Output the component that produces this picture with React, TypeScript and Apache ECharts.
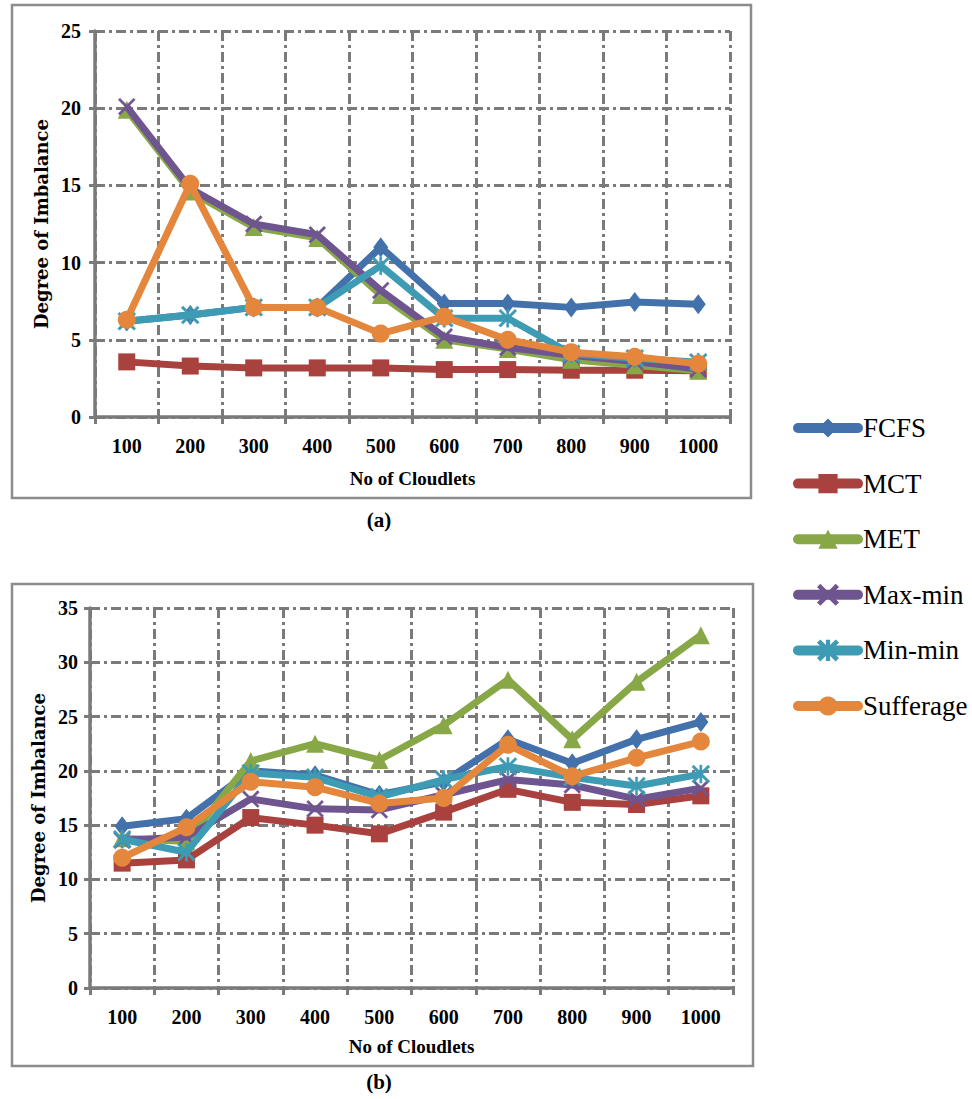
import React, { useEffect, useRef } from "react";
import * as echarts from "echarts";

const categories = ["100", "200", "300", "400", "500", "600", "700", "800", "900", "1000"];
const seriesNames = ["FCFS", "MCT", "MET", "Max-min", "Min-min", "Sufferage"];

// Chart (a)
const fcfsA = [6.2, 6.6, 7.1, 7.1, 11.0, 7.35, 7.35, 7.1, 7.45, 7.3];
const mctA = [3.57, 3.3, 3.18, 3.18, 3.18, 3.07, 3.07, 3.03, 3.03, 3.0];
const metA = [19.9, 14.6, 12.3, 11.6, 7.9, 5.0, 4.4, 3.7, 3.35, 3.0];
const maxminA = [20.1, 14.8, 12.5, 11.8, 8.2, 5.2, 4.5, 4.0, 3.6, 3.1];
const minminA = [6.2, 6.6, 7.1, 7.1, 9.8, 6.4, 6.4, 4.1, 3.8, 3.55];
const suffA = [6.3, 15.1, 7.1, 7.1, 5.4, 6.5, 5.0, 4.2, 3.9, 3.45];

// Chart (b)
const fcfsB = [14.9, 15.6, 20.0, 19.6, 17.8, 19.0, 22.9, 20.7, 22.9, 24.5];
const mctB = [11.5, 11.8, 15.7, 15.0, 14.2, 16.2, 18.3, 17.1, 16.9, 17.7];
const metB = [13.8, 13.5, 20.9, 22.5, 21.0, 24.2, 28.4, 22.9, 28.2, 32.5];
const maxminB = [13.6, 13.9, 17.4, 16.5, 16.4, 17.8, 19.2, 18.7, 17.4, 18.4];
const minminB = [13.7, 12.5, 19.8, 19.4, 17.6, 19.2, 20.4, 19.4, 18.6, 19.7];
const suffB = [12.0, 14.8, 19.0, 18.5, 17.0, 17.5, 22.4, 19.5, 21.2, 22.7];

const yTicksA = { min: 0, max: 25, interval: 5 };
const yTicksB = { min: 0, max: 35, interval: 5 };

const colors = ["#4371AC", "#A9423E", "#88A848", "#6F5590", "#3E9BB4", "#E4863C"];
const xSym = "path://M0,1 L1,0 L5,4 L9,0 L10,1 L6,5 L10,9 L9,10 L5,6 L1,10 L0,9 L4,5 Z";
const starSym =
  "path://M4.4,0 L5.6,0 L5.6,10 L4.4,10 Z M0,1 L1,0 L10,9 L9,10 Z M9,0 L10,1 L1,10 L0,9 Z";
const symbols: any[] = ["diamond", "rect", "triangle", xSym, starSym, "circle"];
const symbolSizes: any[] = [[15, 20], 17, 18, 17, 18, 18];

const gridColor = "#7a7a7a";
const serif = "'Liberation Serif', 'Times New Roman', serif";

export default function App() {
  const ref = useRef<HTMLDivElement>(null);
  useEffect(() => {
    if (!ref.current) return;
    const chart = echarts.init(ref.current, undefined, { renderer: "svg" });
    const dataA = [fcfsA, mctA, metA, maxminA, minminA, suffA];
    const dataB = [fcfsB, mctB, metB, maxminB, minminB, suffB];

    const mkX = (gridIndex: number, nameGap: number) => ({
      type: "category",
      gridIndex,
      data: categories,
      boundaryGap: true,
      name: "No of Cloudlets",
      nameLocation: "middle",
      nameGap,
      nameTextStyle: { fontFamily: serif, fontWeight: "bold", fontSize: 19, color: "#000" },
      axisLine: { show: true, lineStyle: { color: gridColor, width: 3.5 } },
      axisTick: { show: true, inside: false, length: 7, alignWithLabel: false, lineStyle: { color: gridColor, width: 3 } },
      axisLabel: { fontFamily: serif, fontWeight: "bold", fontSize: 20, color: "#000", margin: 19 },
      splitLine: { show: true, lineStyle: { color: gridColor, width: 3, type: [10, 4, 3, 4] } },
    });
    const mkY = (gridIndex: number, t: any, nameGap: number, margin: number) => ({
      type: "value",
      gridIndex,
      min: t.min,
      max: t.max,
      interval: t.interval,
      name: "Degree of Imbalance",
      nameLocation: "middle",
      nameGap,
      nameTextStyle: { fontFamily: "'DejaVu Serif', serif", fontWeight: "bold", fontSize: 18, color: "#000" },
      axisLine: { show: true, lineStyle: { color: gridColor, width: 3.5 } },
      axisTick: { show: true, length: 6, lineStyle: { color: gridColor, width: 3 } },
      axisLabel: { fontFamily: serif, fontWeight: "bold", fontSize: 20, color: "#000", margin },
      splitLine: { show: true, lineStyle: { color: gridColor, width: 3, type: [10, 4, 3, 4] } },
    });

    const series: any[] = [];
    [dataA, dataB].forEach((set, gi) => {
      set.forEach((vals, i) => {
        series.push({
          type: "line",
          name: seriesNames[i],
          xAxisIndex: gi,
          yAxisIndex: gi,
          data: vals,
          symbol: symbols[i],
          symbolSize: symbolSizes[i],
          showAllSymbol: true,
          lineStyle: { color: colors[i], width: 7 },
          itemStyle: { color: colors[i], borderColor: colors[i], borderWidth: i === 3 || i === 4 ? 0.5 : 0 },
          emphasis: { disabled: true },
          z: 2 + i,
        });
      });
    });

    chart.setOption({
      animation: false,
      backgroundColor: "#ffffff",
      grid: [
        { left: 95, top: 31, width: 635, height: 386, containLabel: false },
        { left: 90, top: 608, width: 643, height: 380, containLabel: false },
      ],
      xAxis: [mkX(0, 52), mkX(1, 49)],
      yAxis: [mkY(0, yTicksA, 39, 14), mkY(1, yTicksB, 37, 12)],
      legend: {
        orient: "vertical",
        left: 788,
        top: 408,
        data: seriesNames,
        itemWidth: 60,
        itemHeight: 24,
        itemGap: 25.6,
        lineStyle: { width: 10, cap: "round" },
        textStyle: { fontFamily: serif, fontSize: 27, color: "#000", lineHeight: 30 },
        selectedMode: false,
      },
      graphic: [
        {
          type: "rect",
          shape: { x: 12, y: 5, width: 739, height: 493 },
          style: { fill: "none", stroke: "#8c8c8c", lineWidth: 2.5 },
          silent: true,
          z: -1,
        },
        {
          type: "rect",
          shape: { x: 12, y: 584, width: 741, height: 482 },
          style: { fill: "none", stroke: "#8c8c8c", lineWidth: 2.5 },
          silent: true,
          z: -1,
        },
        {
          type: "text",
          x: 379,
          y: 520,
          style: { text: "(a)", fontFamily: serif, fontWeight: "bold", fontSize: 21, fill: "#000", align: "center", verticalAlign: "middle" },
        },
        {
          type: "text",
          x: 379,
          y: 1082,
          style: { text: "(b)", fontFamily: serif, fontWeight: "bold", fontSize: 21, fill: "#000", align: "center", verticalAlign: "middle" },
        },
      ],
      series,
    });
    return () => chart.dispose();
  }, []);
  return (
    <div
      ref={ref}
      style={{ position: "absolute", left: 0, top: 0, width: 972, height: 1099, background: "#fff" }}
    />
  );
}
